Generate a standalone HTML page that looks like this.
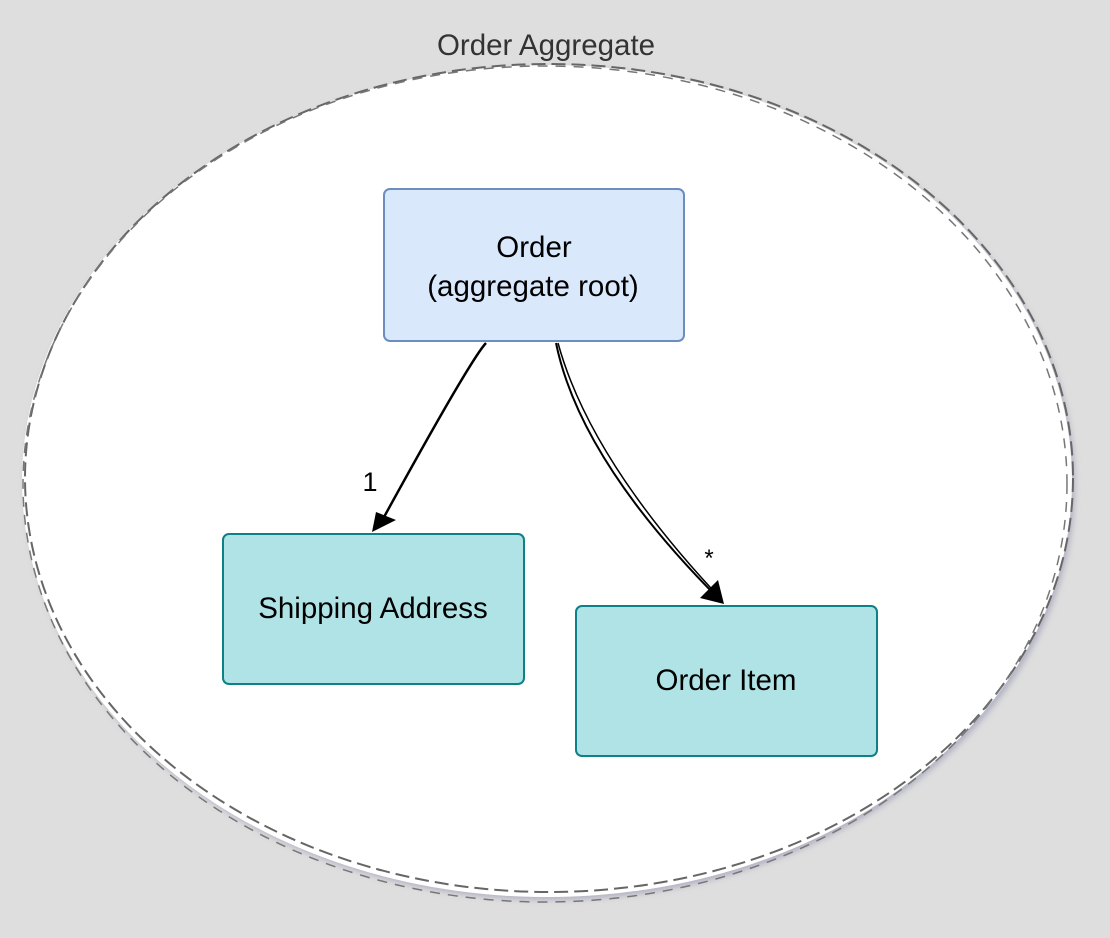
<!DOCTYPE html>
<html><head><style>
body{margin:0;width:1110px;height:933px;background:#dedede;overflow:hidden;font-family:"Liberation Sans",sans-serif}
</style></head><body>
<svg width="1110" height="933" xmlns="http://www.w3.org/2000/svg">
<defs><filter id="s" x="-10%" y="-10%" width="120%" height="120%"><feDropShadow dx="3" dy="3" stdDeviation="3" flood-color="#8888aa" flood-opacity="0.5"/></filter></defs>
<ellipse cx="547" cy="481" rx="525" ry="416" fill="#fff" filter="url(#s)"/>
<ellipse cx="549" cy="478" rx="524" ry="414" fill="none" stroke="#666" stroke-width="2" stroke-dasharray="14 6"/>
<ellipse cx="545" cy="484" rx="522" ry="418" fill="none" stroke="#777" stroke-width="1.5" stroke-dasharray="10 8"/>
<text x="546" y="55" font-size="29.5" fill="#333" text-anchor="middle">Order Aggregate</text>
<rect x="384" y="189" width="300" height="152" rx="6" fill="#dae8fc" stroke="#6c8ebf" stroke-width="2"/>
<text x="534" y="257" font-size="29.5" text-anchor="middle">Order</text>
<text x="533" y="296" font-size="29.5" text-anchor="middle">(aggregate root)</text>
<rect x="223" y="534" width="301" height="150" rx="6" fill="#b0e3e6" stroke="#0e8088" stroke-width="2"/>
<text x="373" y="618" font-size="29.5" text-anchor="middle">Shipping Address</text>
<rect x="576" y="606" width="301" height="150" rx="6" fill="#b0e3e6" stroke="#0e8088" stroke-width="2"/>
<text x="726" y="690" font-size="29.5" text-anchor="middle">Order Item</text>
<path d="M486 343 Q470 360 378 528" fill="none" stroke="#000" stroke-width="2.5"/>
<path d="M372 532 L376 512 L396 520 Z" fill="#000"/>
<path d="M556 343 Q580 460 720 600" fill="none" stroke="#000" stroke-width="2"/>
<path d="M558 343 Q590 460 722 600" fill="none" stroke="#000" stroke-width="1.5"/>
<path d="M724 604 L700 598 L718 580 Z" fill="#000"/>
<text x="370" y="491" font-size="27" text-anchor="middle">1</text>
<text x="709" y="566" font-size="24" text-anchor="middle">*</text>
</svg>
</body></html>
